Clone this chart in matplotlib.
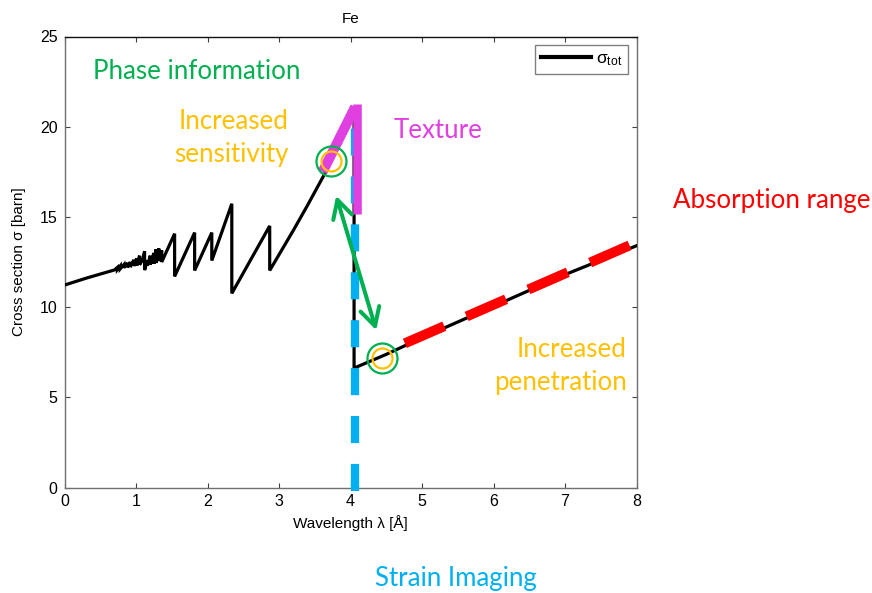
import matplotlib
matplotlib.use("Agg")
import matplotlib.pyplot as plt
from matplotlib.patches import FancyArrowPatch

plt.rcParams["font.family"] = ["Liberation Sans", "DejaVu Sans"]
plt.rcParams["mathtext.fontset"] = "custom"
plt.rcParams["mathtext.rm"] = "Liberation Sans"
plt.rcParams["mathtext.it"] = "Liberation Sans:italic"
plt.rcParams["lines.scale_dashes"] = False

# Total neutron cross section of Fe versus wavelength
wavelength = [0.00, 0.30, 0.63, 0.70, 0.74, 0.74, 0.78, 0.78, 0.83, 0.83,
              0.88, 0.88, 0.92, 0.92, 0.97, 0.97, 1.01, 1.01, 1.05, 1.05,
              1.09, 1.12, 1.12, 1.16, 1.16, 1.20, 1.20, 1.25, 1.25, 1.28,
              1.28, 1.32, 1.32, 1.36, 1.36, 1.54, 1.54, 1.82, 1.82, 2.06,
              2.06, 2.34, 2.34, 2.87, 2.87, 3.20, 3.40, 3.62, 3.73, 4.05,
              4.05, 4.50, 5.00, 6.00, 7.00, 8.00]
sigma_tot = [11.22, 11.60, 11.98, 12.06, 12.20, 12.08, 12.28, 12.12, 12.35, 12.18,
             12.45, 12.20, 12.50, 12.22, 12.62, 12.28, 12.70, 12.30, 12.85, 12.35,
             12.60, 13.10, 12.05, 12.60, 12.30, 12.85, 12.35, 13.00, 12.40, 13.20,
             12.45, 13.25, 12.55, 13.15, 12.50, 14.07, 11.70, 14.13, 12.03, 14.13,
             12.58, 15.73, 10.76, 14.50, 12.03, 14.25, 15.65, 17.25, 18.10, 20.70,
             6.62, 7.38, 8.30, 10.05, 11.80, 13.40]

x_ticks = [0, 1, 2, 3, 4, 5, 6, 7, 8]
y_ticks = [0, 5, 10, 15, 20, 25]

GREEN = "#00B050"
ORANGE = "#FFC000"
MAGENTA = "#E040E0"
RED = "#FF0000"
BLUE = "#00B0F0"

W, H = 872, 593
fig = plt.figure(figsize=(W / 100, H / 100), dpi=100)
fig.patch.set_facecolor("white")

left, right, top, bottom = 64.5, 636.5, 36.5, 487.5
ax = fig.add_axes([left / W, 1 - bottom / H, (right - left) / W, (bottom - top) / H])

ax.plot(wavelength, sigma_tot, color="black", lw=2.3, zorder=3,
        solid_joinstyle="miter", label="σ$_{\\rm tot}$")

ax.set_xlim(0, 8)
ax.set_ylim(0, 25)
ax.set_xticks(x_ticks)
ax.set_yticks(y_ticks)
ax.tick_params(direction="in", top=True, right=True, length=3.6, width=0.8,
               color="#404040", labelsize=11.5, pad=5)
for side in ("left", "bottom", "right"):
    ax.spines[side].set_color("#707070")
ax.spines["top"].set_color("#111111")
for s in ax.spines.values():
    s.set_linewidth(1.0)

ax.set_title("Fe", fontsize=11, pad=10)
ax.set_xlabel("Wavelength λ [Å]", fontsize=11, labelpad=4)
ax.set_ylabel("Cross section σ [barn]", fontsize=11, labelpad=10)

leg = ax.legend(loc="upper right", bbox_to_anchor=(0.985, 0.981), borderaxespad=0,
                fancybox=False, framealpha=1, edgecolor="#808080", fontsize=12.5,
                handlelength=2.9, handletextpad=0.25, borderpad=0.35)
leg.get_frame().set_linewidth(1.0)
leg.get_lines()[0].set_linewidth(3.0)

# Absorption range: thick red dashed line along the post-edge region
ax.plot([4.76, 8.18], [7.99, 13.9], color=RED, lw=7.2, dashes=(31, 17.5),
        solid_capstyle="butt", zorder=4, clip_on=False)

# Strain imaging: blue dashed line at the Bragg edge
ax.plot([4.056, 4.056], [-0.22, 20.6], color=BLUE, lw=6.0, dashes=(19.5, 15),
        zorder=4, clip_on=False)

# Texture: magenta marks on the last Bragg edge
ax.plot([3.61, 4.065], [17.5, 21.1], color=MAGENTA, lw=7.2,
        solid_capstyle="butt", zorder=5, clip_on=False)
ax.plot([4.09, 4.09], [21.25, 15.18], color=MAGENTA, lw=6.2,
        solid_capstyle="butt", zorder=5, clip_on=False)

# Green double arrow between the two edge regions
arrow = FancyArrowPatch((3.80, 16.17), (4.36, 8.72),
                        arrowstyle="<->,head_length=13,head_width=7",
                        mutation_scale=1, color=GREEN, lw=2.9,
                        shrinkA=0, shrinkB=0, zorder=6)
ax.add_patch(arrow)

# Highlight circles
for cx, cy in [(3.73, 18.12), (4.44, 7.19)]:
    ax.plot([cx], [cy], marker="o", ms=21.6, mfc="none", mec=GREEN,
            mew=1.6, zorder=7)
    ax.plot([cx], [cy], marker="o", ms=14.4, mfc="none", mec=ORANGE,
            mew=1.6, zorder=7)

# Annotation texts
tf = ["Lato", "DejaVu Sans"]
fs = 18.6


def ftext(px, py, s, color, **kw):
    fig.text(px / W, 1 - py / H, s, color=color, family=tf, fontsize=fs,
             va="baseline", **kw)


ftext(92.7, 79.3, "Phase information", GREEN, ha="left")
ftext(288.3, 129, "Increased", ORANGE, ha="right")
ftext(288.3, 162, "sensitivity", ORANGE, ha="right")
ftext(394, 138.3, "Texture", MAGENTA, ha="left")
ftext(672.7, 208.3, "Absorption range", RED, ha="left")
ftext(626.7, 357, "Increased", ORANGE, ha="right")
ftext(626.7, 390, "penetration", ORANGE, ha="right")
ftext(455.5, 586, "Strain Imaging", BLUE, ha="center")

fig.savefig("out.png", dpi=100)
